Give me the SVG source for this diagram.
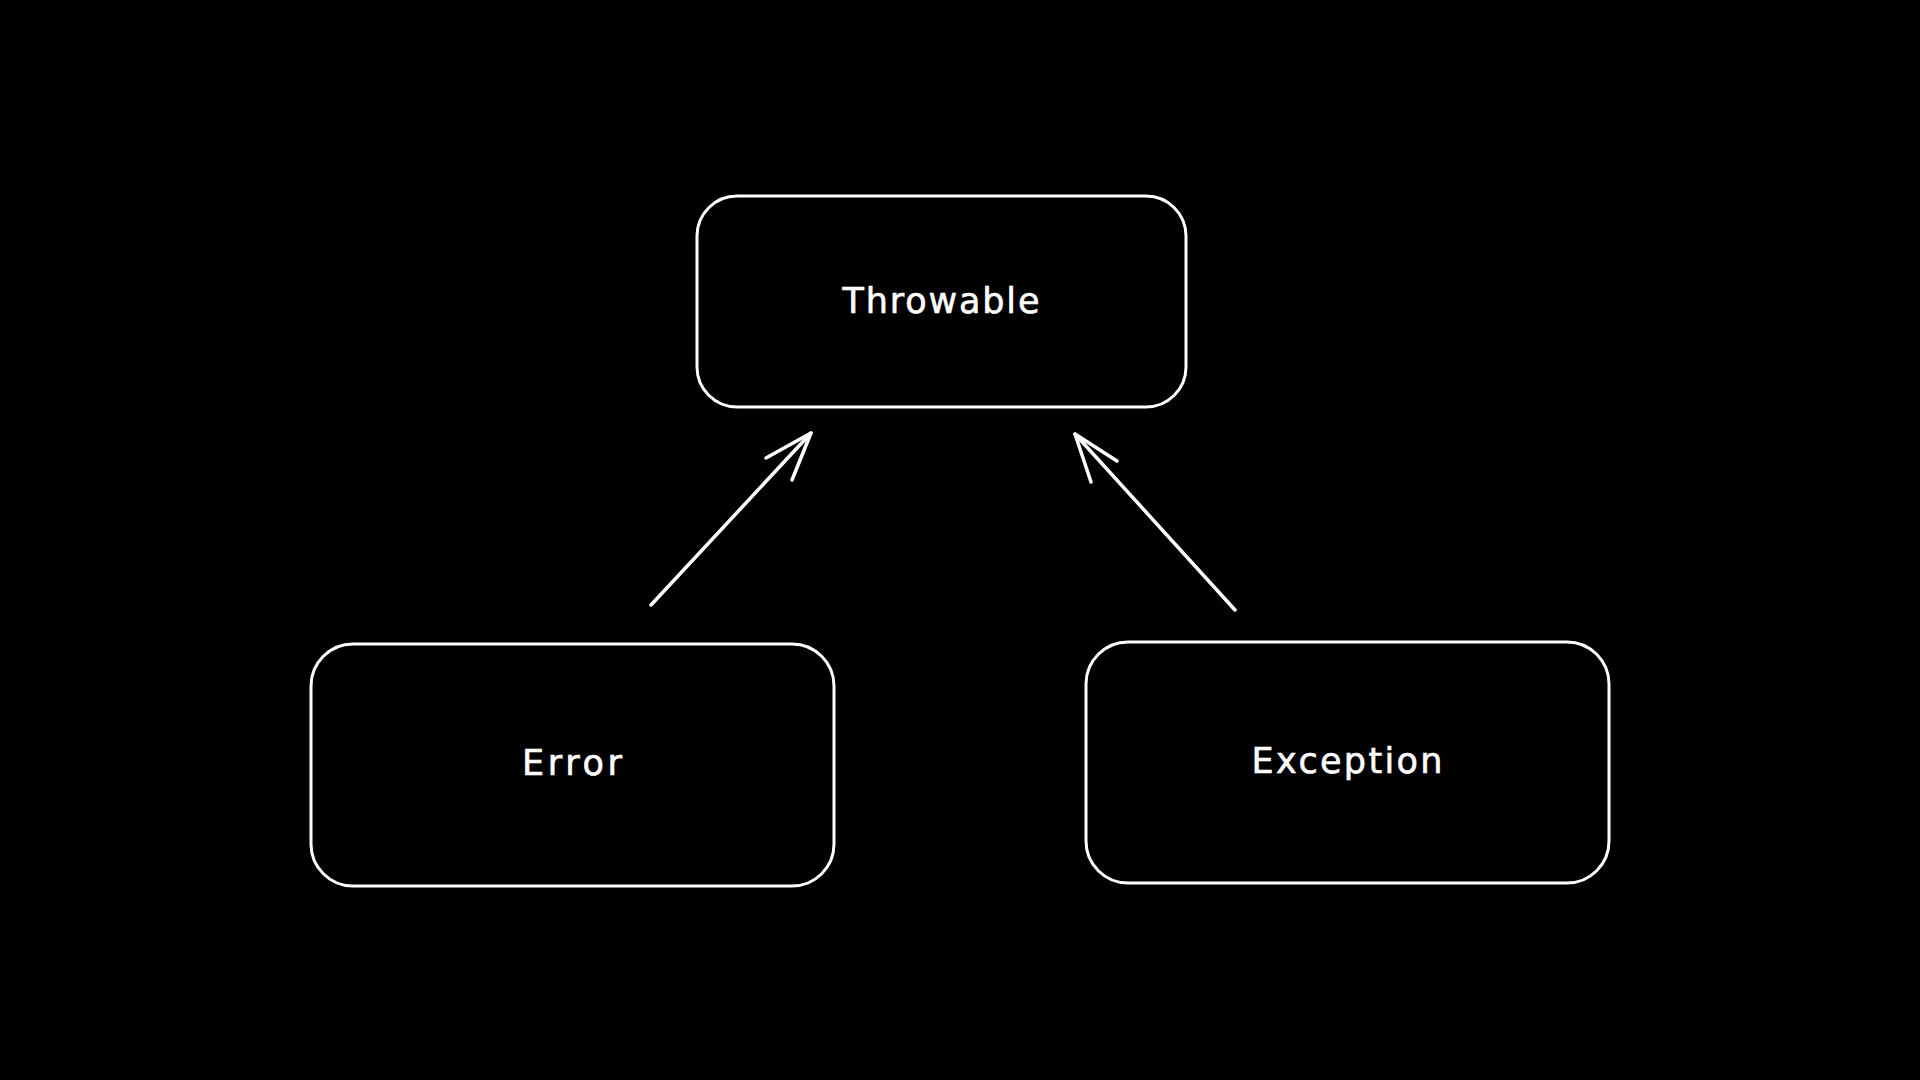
<svg xmlns="http://www.w3.org/2000/svg" width="1920" height="1080" viewBox="0 0 1920 1080">
<style>
.box{fill:none;stroke:#ffffff;stroke-width:3;stroke-linecap:round;stroke-linejoin:round}
.lbl{fill:#ffffff;stroke:#ffffff;stroke-width:0.6;font-family:"DejaVu Sans","Liberation Sans",sans-serif;font-size:35px;text-anchor:middle}
.conn{fill:none;stroke:#ffffff;stroke-width:3.5;stroke-linecap:round;stroke-linejoin:round}
</style>
<rect width="1920" height="1080" fill="#000000"/>
<g id="node-throwable">
<rect class="box" x="697" y="196" width="489" height="211" rx="40" ry="40"/>
<text class="lbl" x="941" y="313" textLength="197" lengthAdjust="spacing">Throwable</text>
</g>
<g id="node-error">
<rect class="box" x="311" y="644" width="523" height="242" rx="42" ry="42"/>
<text class="lbl" x="572" y="775" textLength="100" lengthAdjust="spacing">Error</text>
</g>
<g id="node-exception">
<rect class="box" x="1086" y="642" width="523" height="241" rx="42" ry="42"/>
<text class="lbl" x="1347" y="773" textLength="191" lengthAdjust="spacing">Exception</text>
</g>
<g id="connectors">
<path class="conn" d="M651 605 L811 433"/>
<path class="conn" d="M766 458 L811 433 L792 480"/>
<path class="conn" stroke-width="4.5" d="M1235 610 L1075 434"/>
<path class="conn" stroke-width="4.5" d="M1117 461 L1075 434 L1091 482"/>
</g>
</svg>
